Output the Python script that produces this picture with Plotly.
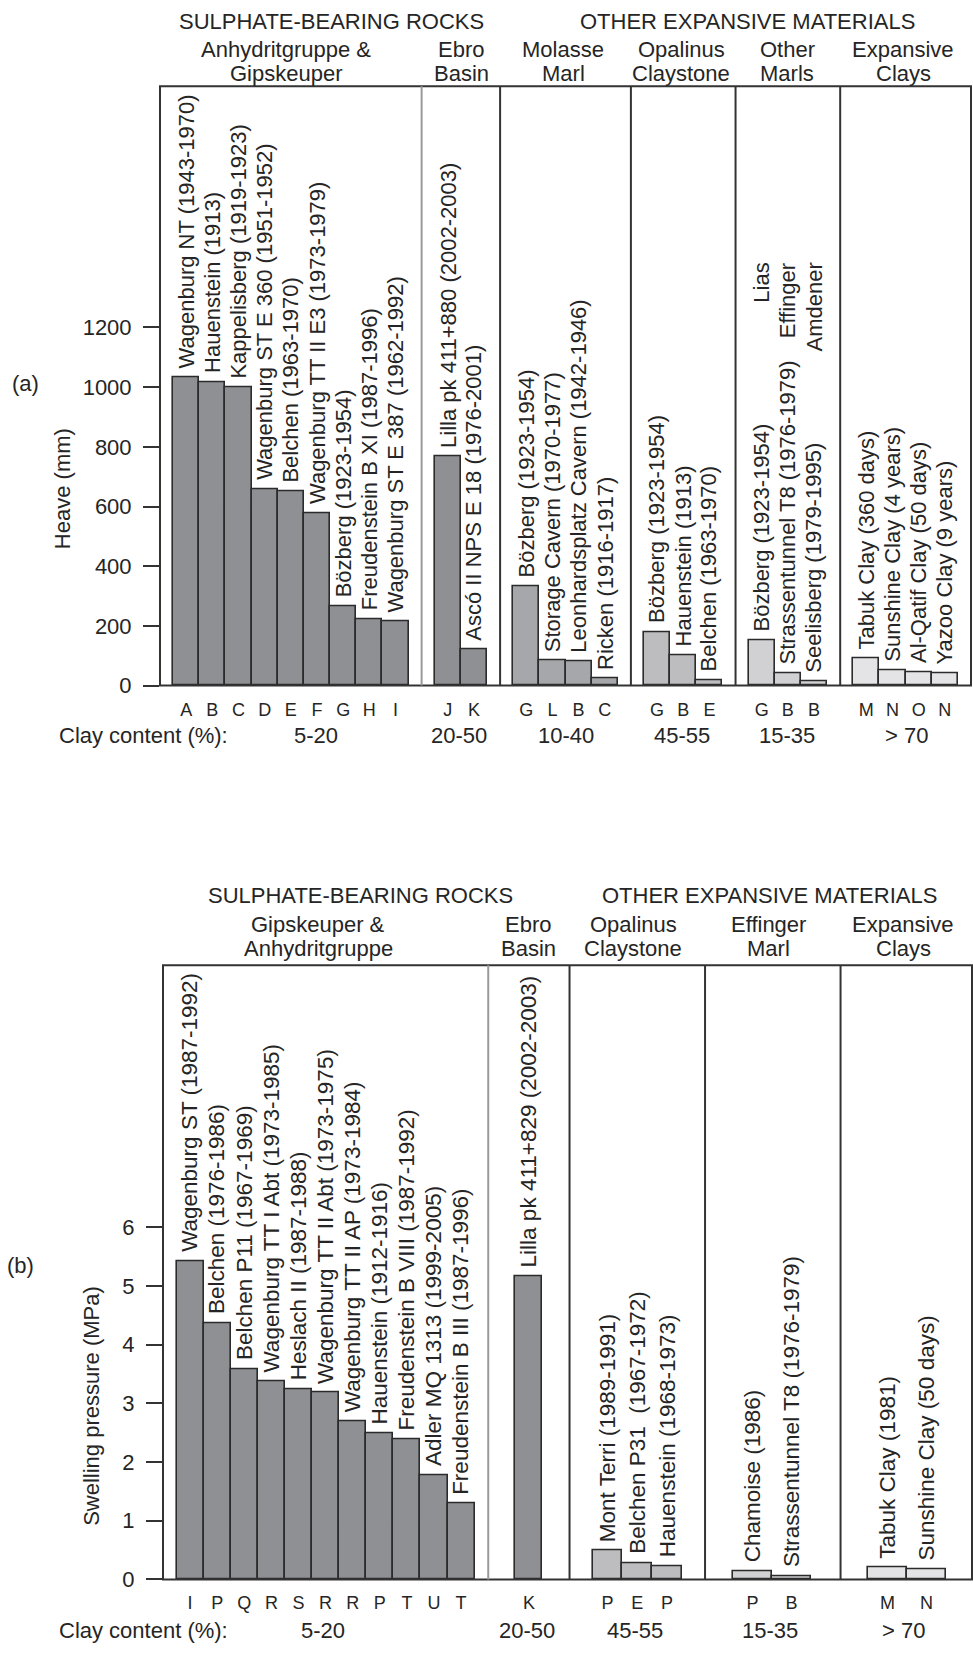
import plotly.graph_objects as go

W, H = 973, 1654
FONT = "Liberation Sans, Arial, Helvetica, sans-serif"
TXT = "#252525"
EDGE = "#2b2b2b"
FRAME = "#333333"

# ---------------- (a) Heave ----------------
a_sulph_codes = ["A", "B", "C", "D", "E", "F", "G", "H", "I"]
a_sulph_heave = [1033, 1017, 1000, 658, 651, 578, 266, 223, 216]
a_sulph_names = [
    "Wagenburg NT (1943-1970)", "Hauenstein (1913)", "Kappelisberg (1919-1923)",
    "Wagenburg ST E 360 (1951-1952)", "Belchen (1963-1970)",
    "Wagenburg TT II E3 (1973-1979)", "Bözberg (1923-1954)",
    "Freudenstein B XI (1987-1996)", "Wagenburg ST E 387 (1962-1992)",
]
a_ebro_codes = ["J", "K"]
a_ebro_heave = [767, 120]
a_ebro_names = ["Lilla pk 411+880 (2002-2003)", "Ascó II NPS E 18 (1976-2001)"]

a_molasse_codes = ["G", "L", "B", "C"]
a_molasse_heave = [333, 83, 80, 23]
a_molasse_names = ["Bözberg (1923-1954)", "Storage Cavern (1970-1977)",
                   "Leonhardsplatz Cavern (1942-1946)", "Ricken (1916-1917)"]

a_opal_codes = ["G", "B", "E"]
a_opal_heave = [180, 100, 17]
a_opal_names = ["Bözberg (1923-1954)", "Hauenstein (1913)", "Belchen (1963-1970)"]

a_marls_codes = ["G", "B", "B"]
a_marls_heave = [150, 40, 13]
a_marls_names = ["Bözberg (1923-1954)", "Strassentunnel T8 (1976-1979)",
                 "Seelisberg (1979-1995)"]
a_marls_units = ["Lias", "Effinger", "Amdener"]

a_clay_codes = ["M", "N", "O", "N"]
a_clay_heave = [90, 50, 46, 40]
a_clay_names = ["Tabuk Clay (360 days)", "Sunshine Clay (4 years)",
                "Al-Qatif Clay (50 days)", "Yazoo Clay (9 years)"]

a_clay_content = ["5-20", "20-50", "10-40", "45-55", "15-35", "> 70"]

# ---------------- (b) Swelling pressure ----------------
b_sulph_codes = ["I", "P", "Q", "R", "S", "R", "R", "P", "T", "U", "T"]
b_sulph_press = [5.42, 4.37, 3.58, 3.37, 3.24, 3.18, 2.70, 2.49, 2.39, 1.78, 1.29]
b_sulph_names = [
    "Wagenburg ST (1987-1992)", "Belchen (1976-1986)", "Belchen P11 (1967-1969)",
    "Wagenburg TT I Abt (1973-1985)", "Heslach II (1987-1988)",
    "Wagenburg TT II Abt (1973-1975)", "Wagenburg TT II AP (1973-1984)",
    "Hauenstein (1912-1916)", "Freudenstein B VIII (1987-1992)",
    "Adler MQ 1313 (1999-2005)", "Freudenstein B III (1987-1996)",
]
b_ebro_codes = ["K"]
b_ebro_press = [5.16]
b_ebro_names = ["Lilla pk 411+829 (2002-2003)"]

b_opal_codes = ["P", "E", "P"]
b_opal_press = [0.49, 0.28, 0.22]
b_opal_names = ["Mont Terri (1989-1991)", "Belchen P31  (1967-1972)",
                "Hauenstein (1968-1973)"]

b_eff_codes = ["P", "B"]
b_eff_press = [0.14, 0.06]
b_eff_names = ["Chamoise (1986)", "Strassentunnel T8 (1976-1979)"]

b_clay_codes = ["M", "N"]
b_clay_press = [0.20, 0.17]
b_clay_names = ["Tabuk Clay (1981)", "Sunshine Clay (50 days)"]

b_clay_content = ["5-20", "20-50", "45-55", "15-35", "> 70"]

# fill colours per material family
C_SULPH = "#8f9094"
C_MOL = "#a6a7aa"
C_OPAL = "#bdbdbf"
C_MARL = "#d1d1d3"
C_CLAY = "#e4e4e6"

# group slots: (codes, values, names, colour, first centre, spacing, bar width)
panel_a = [
    (a_sulph_codes, a_sulph_heave, a_sulph_names, C_SULPH, 1.0, 1.0, 1.0),
    (a_ebro_codes, a_ebro_heave, a_ebro_names, C_SULPH, 11.0, 1.0, 1.0),
    (a_molasse_codes, a_molasse_heave, a_molasse_names, C_MOL, 14.0, 1.0, 1.0),
    (a_opal_codes, a_opal_heave, a_opal_names, C_OPAL, 19.0, 1.0, 1.0),
    (a_marls_codes, a_marls_heave, a_marls_names, C_MARL, 23.0, 1.0, 1.0),
    (a_clay_codes, a_clay_heave, a_clay_names, C_CLAY, 27.0, 1.0, 1.0),
]
panel_b = [
    (b_sulph_codes, b_sulph_press, b_sulph_names, C_SULPH, 1.0, 1.0, 1.0),
    (b_ebro_codes, b_ebro_press, b_ebro_names, C_SULPH, 13.5, 1.0, 1.0),
    (b_opal_codes, b_opal_press, b_opal_names, C_OPAL, 16.4, 1.1, 1.1),
    (b_eff_codes, b_eff_press, b_eff_names, C_MARL, 21.75, 1.44, 1.44),
    (b_clay_codes, b_clay_press, b_clay_names, C_CLAY, 26.73, 1.44, 1.44),
]


def px_x(px):
    return px / W


def px_y(py):
    return 1 - py / H


fig = go.Figure()
annotations = []


def add_panel(groups, xa, ya, label_size, label_gap):
    tickvals, ticktext = [], []
    for codes, vals, names, colour, x0, step, bw in groups:
        xs = [x0 + i * step for i in range(len(codes))]
        fig.add_trace(go.Bar(
            x=xs, y=vals, width=[bw] * len(xs),
            marker=dict(color=colour, line=dict(color=EDGE, width=1.6)),
            xaxis=xa, yaxis=ya, hoverinfo="skip", showlegend=False,
        ))
        tickvals += xs
        ticktext += codes
        for xv, yv, nm in zip(xs, vals, names):
            annotations.append(dict(
                text=nm, x=xv, y=yv, xref=xa, yref=ya,
                xanchor="center", yanchor="bottom", yshift=label_gap,
                textangle=-90, showarrow=False, borderpad=0,
                font=dict(size=label_size, color=TXT, family=FONT),
            ))
    return tickvals, ticktext


a_tv, a_tt = add_panel(panel_a, "x", "y", 22, 8)
b_tv, b_tt = add_panel(panel_b, "x2", "y2", 22.5, 8)

# secondary unit names above the "other marls" bars
for xv, nm in zip([23.0, 24.0, 25.0], a_marls_units):
    annotations.append(dict(
        text=nm, x=xv, y=px_y(264), xref="x", yref="paper",
        xanchor="center", yanchor="top", textangle=-90, showarrow=False,
        borderpad=0, font=dict(size=22, color=TXT, family=FONT),
    ))


def txt(text, x, y, size=22, xanchor="center", angle=0):
    annotations.append(dict(
        text=text, x=px_x(x), y=px_y(y), xref="paper", yref="paper",
        xanchor=xanchor, yanchor="middle", showarrow=False, textangle=angle,
        font=dict(size=size, color=TXT, family=FONT),
    ))


# headers, panel (a)
txt("SULPHATE-BEARING ROCKS", 331, 22)
txt("OTHER EXPANSIVE MATERIALS", 747, 22)
for x, l1, l2 in [(286, "Anhydritgruppe &", "Gipskeuper"), (461, "Ebro", "Basin"),
                  (563, "Molasse", "Marl"), (681, "Opalinus", "Claystone"),
                  (787, "Other", "Marls"), (903, "Expansive", "Clays")]:
    txt(l1, x, 50)
    txt(l2, x, 74)

# headers, panel (b)
txt("SULPHATE-BEARING ROCKS", 360, 903)
txt("OTHER EXPANSIVE MATERIALS", 769, 903)
for x, l1, l2 in [(318, "Gipskeuper &", "Anhydritgruppe"), (528, "Ebro", "Basin"),
                  (633, "Opalinus", "Claystone"), (768, "Effinger", "Marl"),
                  (903, "Expansive", "Clays")]:
    txt(l1, x, 932)
    txt(l2, x, 956)

# clay content rows
txt("Clay content (%):", 57, 741, xanchor="left")
for x, v in zip([316, 459, 566, 682, 787, 906], a_clay_content):
    txt(v, x, 741)
txt("Clay content (%):", 57, 1643, xanchor="left")
for x, v in zip([323, 527, 635, 770, 903], b_clay_content):
    txt(v, x, 1643)

# panel tags and axis titles
txt("(a)", 25, 387)
txt("(b)", 20, 1276)
txt("Heave (mm)", 62, 493, angle=-90)
txt("Swelling pressure (MPa)", 92, 1417, angle=-90)

shapes = []
for xa, ya, divs in [("x", "y", [(10, "#9a9a9a"), (13, FRAME), (18, FRAME),
                                 (22, FRAME), (26, FRAME)]),
                     ("x2", "y2", [(12, "#9a9a9a"), (15, FRAME), (20, FRAME),
                                   (25, FRAME)])]:
    shapes.append(dict(type="rect", xref=f"{xa} domain", yref=f"{ya} domain",
                       x0=0, x1=1, y0=0, y1=1, line=dict(color=FRAME, width=2),
                       fillcolor="rgba(0,0,0,0)", layer="above"))
    for xv, col in divs:
        shapes.append(dict(type="line", xref=xa, yref=f"{ya} domain",
                           x0=xv, x1=xv, y0=0, y1=1,
                           line=dict(color=col, width=2), layer="above"))

xcommon = dict(showgrid=False, zeroline=False, showline=False, ticks="",
               tickfont=dict(size=18, color=TXT, family=FONT),
               ticklabelstandoff=11, fixedrange=True)
ycommon = dict(showgrid=False, zeroline=False, showline=False, ticks="outside",
               ticklen=16, tickwidth=2, tickcolor=FRAME,
               tickfont=dict(size=22, color=TXT, family=FONT),
               ticklabelstandoff=7, fixedrange=True)

fig.update_layout(
    width=W, height=H, margin=dict(l=0, r=0, t=0, b=0),
    paper_bgcolor="white", plot_bgcolor="white", showlegend=False,
    bargap=0, barmode="overlay",
    xaxis=dict(domain=[px_x(160), px_x(971)], range=[0, 31], anchor="y",
               tickvals=a_tv, ticktext=a_tt, **xcommon),
    yaxis=dict(domain=[px_y(691), px_y(87)], range=[0, 2008], anchor="x",
               tickvals=[0, 200, 400, 600, 800, 1000, 1200], **ycommon),
    xaxis2=dict(domain=[px_x(163), px_x(972)], range=[0, 29.85], anchor="y2",
                tickvals=b_tv, ticktext=b_tt, **xcommon),
    yaxis2=dict(domain=[px_y(1592), px_y(973)], range=[0, 10.46], anchor="x2",
                tickvals=[0, 1, 2, 3, 4, 5, 6], **ycommon),
    annotations=annotations,
    shapes=shapes,
    font=dict(family=FONT, color=TXT),
)

fig.write_html("out.html")
